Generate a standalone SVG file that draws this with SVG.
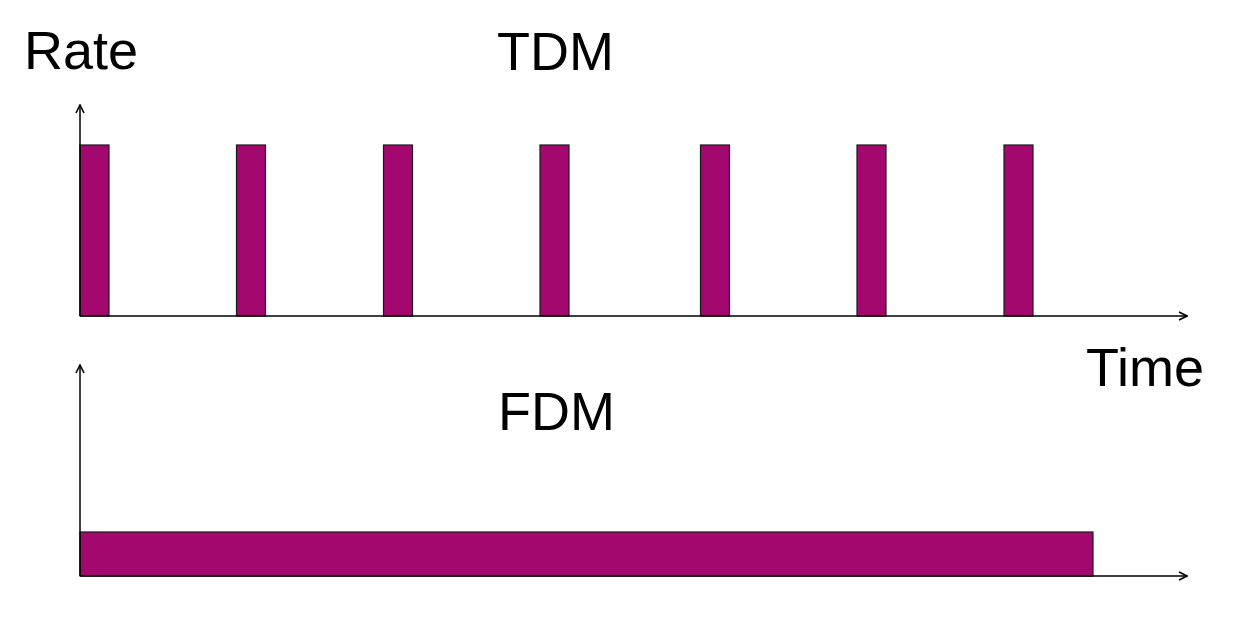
<svg xmlns="http://www.w3.org/2000/svg" width="1240" height="634" viewBox="0 0 1240 634">
<style>
.lbl{font-family:"Liberation Sans",Arial,sans-serif;font-size:54px;fill:#000}
.bar{fill:#A3086F;stroke:#1a1a1a;stroke-width:1.2}
.ax{stroke:#000;stroke-width:1.5;fill:none}
</style>
<defs>
<marker id="arr" viewBox="0 0 10 10" refX="9" refY="5" markerWidth="10" markerHeight="10" markerUnits="userSpaceOnUse" orient="auto">
<path d="M1,1 L9,5 L1,9" fill="none" stroke="#000" stroke-width="1.6"/>
</marker>
</defs>
<rect width="1240" height="634" fill="#fff"/>
<g id="tdm-bars">
<rect class="bar" x="80" y="145" width="29" height="171"/>
<rect class="bar" x="236.5" y="145" width="29" height="171"/>
<rect class="bar" x="383.5" y="145" width="29" height="171"/>
<rect class="bar" x="540" y="145" width="29" height="171"/>
<rect class="bar" x="700.5" y="145" width="29" height="171"/>
<rect class="bar" x="857" y="145" width="29" height="171"/>
<rect class="bar" x="1004" y="145" width="29" height="171"/>
</g>
<g id="fdm-bar">
<rect class="bar" x="80" y="532" width="1013" height="44"/>
</g>
<g id="connectors">
<line class="ax" x1="80" y1="316" x2="80" y2="105" marker-end="url(#arr)"/>
<line class="ax" x1="80" y1="316" x2="1187" y2="316" marker-end="url(#arr)"/>
<line class="ax" x1="80" y1="576" x2="80" y2="365" marker-end="url(#arr)"/>
<line class="ax" x1="80" y1="576" x2="1187" y2="576" marker-end="url(#arr)"/>
</g>
<g id="labels">
<text class="lbl" x="24" y="69">Rate</text>
<text class="lbl" x="497" y="70">TDM</text>
<text class="lbl" x="1086" y="386">Time</text>
<text class="lbl" x="498" y="430">FDM</text>
</g>
</svg>
